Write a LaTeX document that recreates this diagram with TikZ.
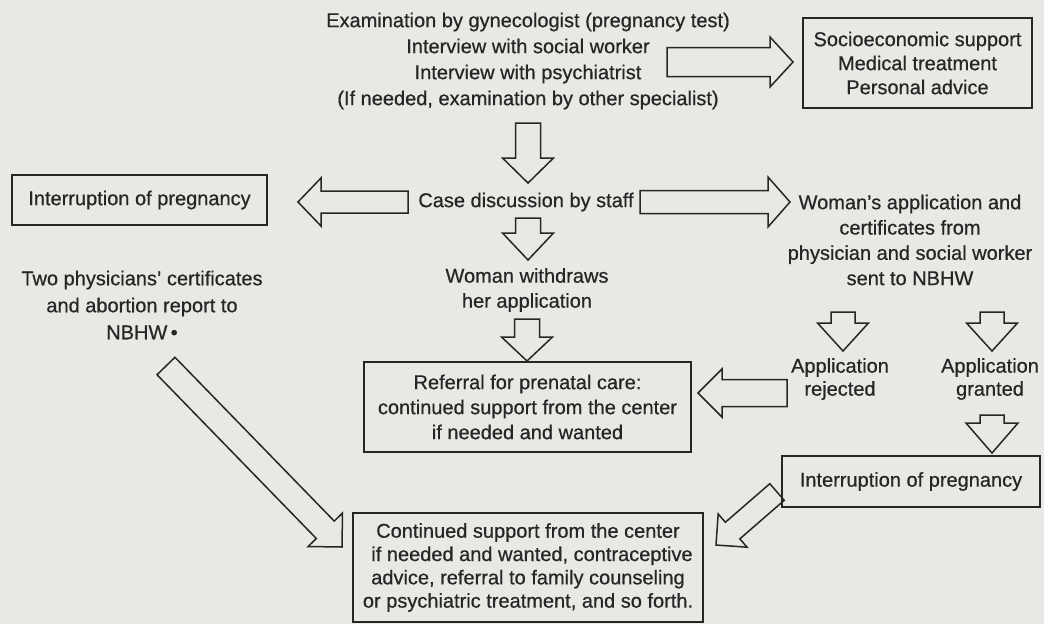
\documentclass[tikz,border=0pt]{standalone}
\usepackage{fontspec}
\setmainfont[FakeBold=0.6]{Liberation Sans}
\usetikzlibrary{calc}
\definecolor{paper}{RGB}{232,232,228}
\definecolor{ink}{RGB}{38,38,38}
% block arrow: tail coordinate, tip coordinate, body half width, head half width, head length
\newcommand\blockarr[5]{%
  \coordinate (baB) at ($(#2)!#5!(#1)$);
  \draw[barrow] ($(#1)!#3!90:(#2)$) -- ($(baB)!#3!90:(#2)$) -- ($(baB)!#4!90:(#2)$) -- (#2)
    -- ($(baB)!#4!-90:(#2)$) -- ($(baB)!#3!-90:(#2)$) -- ($(#1)!#3!-90:(#2)$) -- cycle;}
\begin{document}
\begin{tikzpicture}[x=1pt,y=-1pt,
  txt/.style={font=\fontsize{20}{#1}\selectfont, text=ink, align=center, inner sep=0pt},
  txt/.default=25,
  box/.style={draw=ink, line width=1.5pt, text=ink, align=center, inner sep=0pt},
  barrow/.style={draw=ink, line width=1.5pt, line join=miter}]
\useasboundingbox (0,0) rectangle (1044,624);
\fill[paper] (0,0) rectangle (1044,624);

% texts
\node[txt=26] (exam) at (528,61) {Examination by gynecologist (pregnancy test)\\Interview with social worker\\Interview with psychiatrist\\(If needed, examination by other specialist)};
\node[box, txt=24, minimum width=229, minimum height=90] (socio) at (917.5,63) {Socioeconomic support\\Medical treatment\\Personal advice};
\node[txt] (case) at (526,202) {Case discussion by staff};
\node[box, txt, minimum width=255, minimum height=50] (interL) at (139.5,200) {Interruption of pregnancy};
\node[txt=25.3] (appl) at (910,240) {Woman's application and\\certificates from\\physician and social worker\\sent to NBHW};
\node[txt=27] (two) at (142,305) {Two physicians' certificates\\and abortion report to\\NBHW\,•};
\node[txt] (withdr) at (527,290) {Woman withdraws\\her application};
\node[box, txt, minimum width=327, minimum height=90] (referral) at (527.5,407) {Referral for prenatal care:\\continued support from the center\\if needed and wanted};
\node[txt=23] (rej) at (840,379) {Application\\rejected};
\node[txt=23] (gra) at (990,379) {Application\\granted};
\node[box, txt, minimum width=258, minimum height=51] (interR) at (911,481.5) {Interruption of pregnancy};
\node[box, txt=23.3, minimum width=350, minimum height=109] (cont) at (528,567.5) {Continued support from the center\\\hspace{8pt}if needed and wanted, contraceptive\\advice, referral to family counseling\\or psychiatric treatment, and so forth.};

% arrow ends
\coordinate (t1) at (667,62);  \coordinate (h1) at (793,62);
\coordinate (t2) at (528,123); \coordinate (h2) at (528,183);
\coordinate (t3) at (408,202); \coordinate (h3) at (298,202);
\coordinate (t4) at (640,202); \coordinate (h4) at (790,202);
\coordinate (t5) at (528,218); \coordinate (h5) at (528,260);
\coordinate (t6) at (527,319); \coordinate (h6) at (527,361);
\coordinate (t7) at (843,312); \coordinate (h7) at (843,351);
\coordinate (t8) at (992,312); \coordinate (h8) at (992,351);
\coordinate (t9) at (992,415); \coordinate (h9) at (992,453);
\coordinate (t10) at (787,393); \coordinate (h10) at (698,393);
\coordinate (t11) at (166,366); \coordinate (h11) at (342,547);
\coordinate (t12) at (777,492); \coordinate (h12) at (716,545);

\blockarr{t1}{h1}{14.5pt}{25pt}{23pt}
\blockarr{t2}{h2}{12.5pt}{25.5pt}{25pt}
\blockarr{t3}{h3}{11pt}{24pt}{23pt}
\blockarr{t4}{h4}{11.5pt}{25pt}{22pt}
\blockarr{t5}{h5}{12.5pt}{25.5pt}{27pt}
\blockarr{t6}{h6}{12.5pt}{25.5pt}{24pt}
\blockarr{t7}{h7}{12pt}{25.5pt}{28pt}
\blockarr{t8}{h8}{12pt}{25.5pt}{28pt}
\blockarr{t9}{h9}{12pt}{26pt}{30pt}
\blockarr{t10}{h10}{13.5pt}{24pt}{24pt}
\blockarr{t11}{h11}{12.5pt}{24pt}{24pt}
\blockarr{t12}{h12}{11pt}{22pt}{22pt}
\end{tikzpicture}
\end{document}
